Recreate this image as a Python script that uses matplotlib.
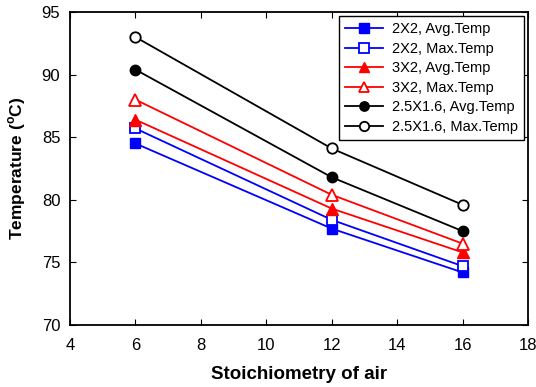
import numpy as np
import matplotlib.pyplot as plt

plt.rcParams['font.family'] = ['Liberation Sans', 'DejaVu Sans']

stoich = [6, 12, 16]
avg_2x2 = [84.5, 77.7, 74.2]
max_2x2 = [85.7, 78.4, 74.7]
avg_3x2 = [86.4, 79.3, 75.8]
max_3x2 = [88.0, 80.4, 76.5]
avg_25x16 = [90.4, 81.8, 77.5]
max_25x16 = [93.0, 84.1, 79.6]

fig = plt.figure(figsize=(5.36, 3.87), dpi=100)
ax = fig.add_axes([70/536, 1-325/387, (528-70)/536, (325-12)/387])

ax.plot(stoich, avg_2x2, color='blue', marker='s', ms=7.5, lw=1.3, label='2X2, Avg.Temp')
ax.plot(stoich, max_2x2, color='blue', marker='s', ms=7.5, lw=1.3, mfc='white', mew=1.3, label='2X2, Max.Temp')
ax.plot(stoich, avg_3x2, color='red', marker='^', ms=8.5, lw=1.3, label='3X2, Avg.Temp')
ax.plot(stoich, max_3x2, color='red', marker='^', ms=8.5, lw=1.3, mfc='white', mew=1.3, label='3X2, Max.Temp')
ax.plot(stoich, avg_25x16, color='black', marker='o', ms=7.5, lw=1.3, label='2.5X1.6, Avg.Temp')
ax.plot(stoich, max_25x16, color='black', marker='o', ms=7.5, lw=1.3, mfc='white', mew=1.3, label='2.5X1.6, Max.Temp')

ax.set_xlim(4, 18)
ax.set_ylim(70, 95)
ax.set_xticks(np.arange(4, 19, 2))
ax.set_yticks(np.arange(70, 96, 5))
ax.tick_params(direction='in', top=True, right=True, labelsize=12, length=4)
ax.tick_params(axis='x', pad=9)
ax.tick_params(axis='y', pad=7)
for s in ax.spines.values():
    s.set_linewidth(1.3)

ax.set_xlabel('Stoichiometry of air', fontsize=13.5, fontweight='bold', labelpad=10)
ax.set_ylabel('Temperature ($^{\\mathregular{o}}$C)', fontsize=12.5, fontweight='bold', labelpad=10)

leg = ax.legend(loc='upper right', fontsize=10.5, fancybox=False, edgecolor='black',
                framealpha=1, borderaxespad=0.3, handlelength=2.6, handletextpad=0.6,
                labelspacing=0.38, markerscale=0.9)
leg.get_frame().set_linewidth(1.0)

fig.savefig('out.png', dpi=100)
